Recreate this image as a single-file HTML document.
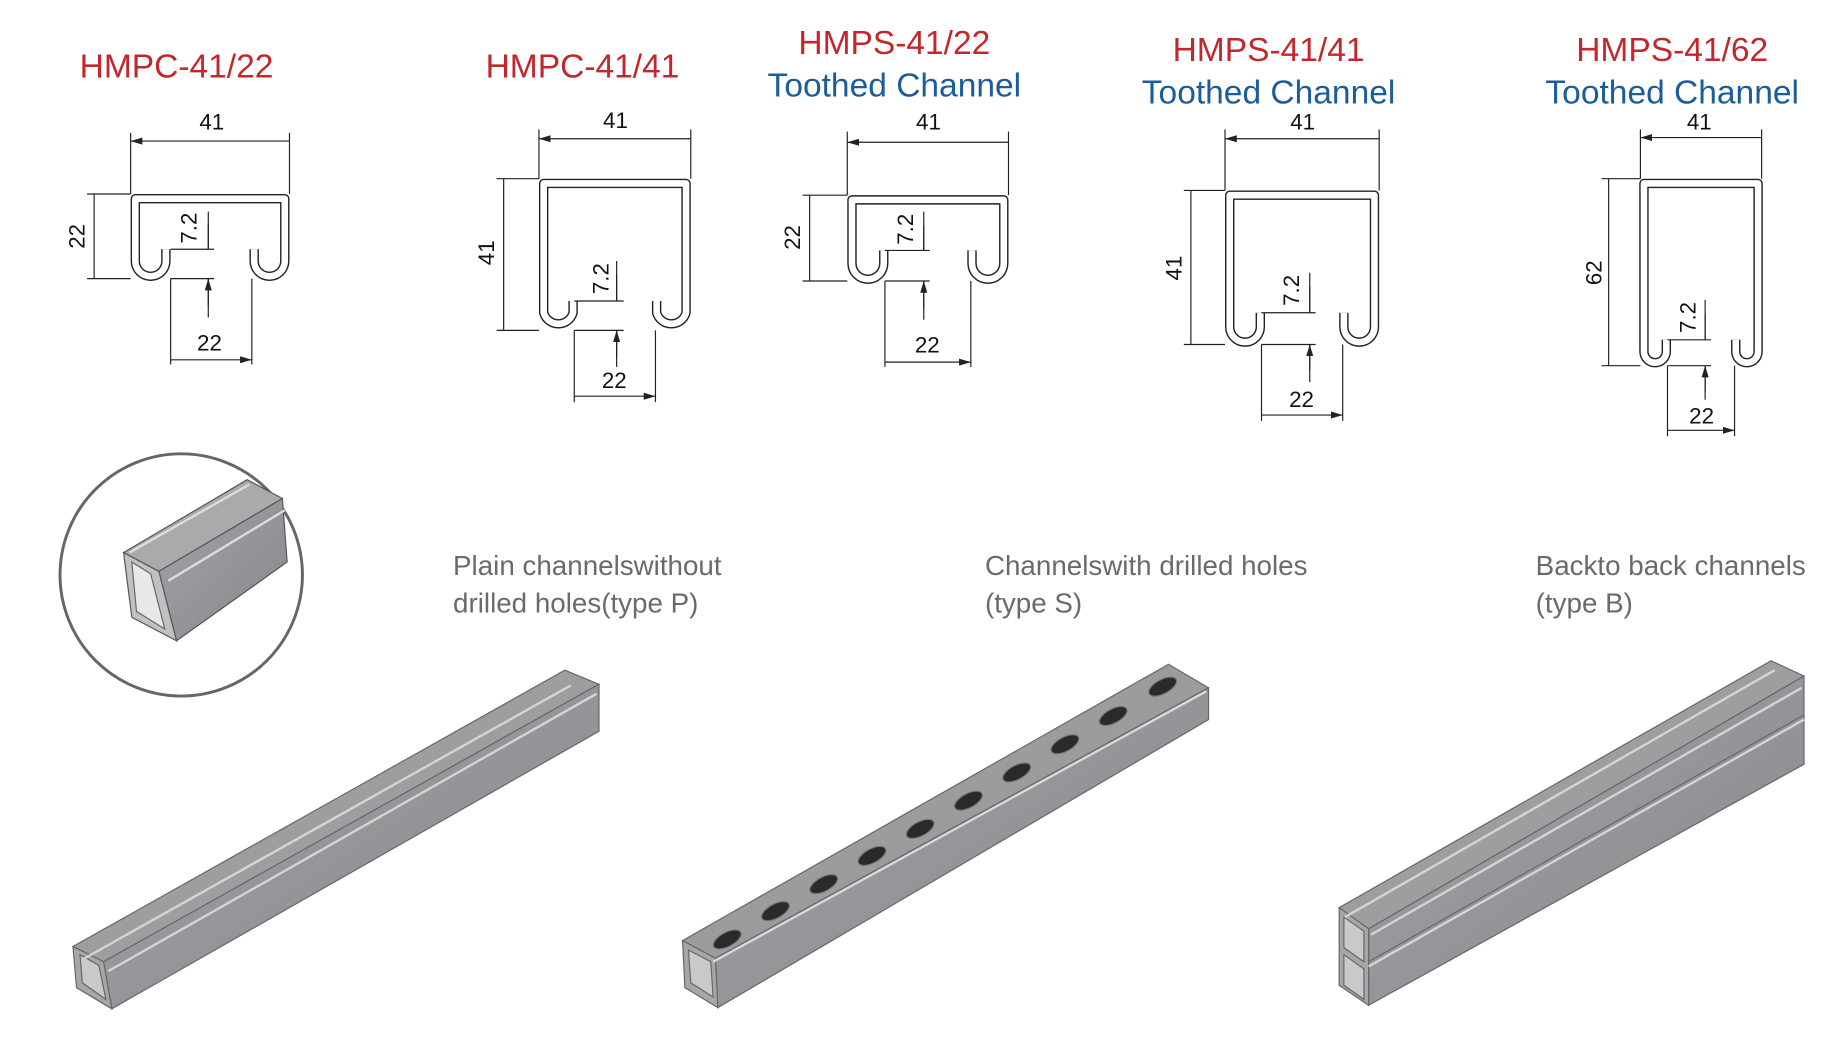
<!DOCTYPE html>
<html><head><meta charset="utf-8"><style>
html,body{margin:0;padding:0;background:#fff;width:1844px;height:1037px;overflow:hidden}
svg{display:block}
.t{font-family:"Liberation Sans",sans-serif;font-size:28.5px}
.r{fill:#c1272d}.b{fill:#1b5c9b}
.d{font-family:"Liberation Sans",sans-serif;font-size:19px;fill:#111}
.g{font-family:"Liberation Sans",sans-serif;font-size:23.6px;fill:#6a6a6a}
.ch{fill:none;stroke:#222;stroke-width:8;stroke-linejoin:round}
.chi{fill:none;stroke:#fff;stroke-width:5.6;stroke-linejoin:round}
.ln{stroke:#222;stroke-width:1;fill:none}
</style></head><body>
<svg width="1844" height="1037" viewBox="0 0 1567 882" preserveAspectRatio="none" xmlns="http://www.w3.org/2000/svg">
<defs>
<marker id="a" viewBox="0 0 10 6" refX="10" refY="3" markerWidth="10" markerHeight="6" orient="auto-start-reverse" markerUnits="userSpaceOnUse"><path d="M0,0 L10,3 L0,6 z" fill="#222"/></marker>
<linearGradient id="m" x1="0" y1="0" x2="1" y2="1"><stop offset="0" stop-color="#a2a4a6"/><stop offset="1" stop-color="#85878a"/></linearGradient>
</defs>

<text class="t r" x="150" y="66" text-anchor="middle">HMPC-41/22</text>
<text class="t r" x="495" y="66" text-anchor="middle">HMPC-41/41</text>
<text class="t r" x="760" y="46" text-anchor="middle">HMPS-41/22</text>
<text class="t b" x="760" y="82" text-anchor="middle">Toothed Channel</text>
<text class="t r" x="1078" y="52" text-anchor="middle">HMPS-41/41</text>
<text class="t b" x="1078" y="88" text-anchor="middle">Toothed Channel</text>
<text class="t r" x="1421" y="52" text-anchor="middle">HMPS-41/62</text>
<text class="t b" x="1421" y="88" text-anchor="middle">Toothed Channel</text>

<g>
<path class="ch" d="M141,212 L141,222 A13,13 0 0 1 115,222 L115,169 L242,169 L242,222 A13,13 0 0 1 216,222 L216,212"/>
<path class="chi" d="M141,212 L141,222 A13,13 0 0 1 115,222 L115,169 L242,169 L242,222 A13,13 0 0 1 216,222 L216,212"/>
<path class="ln" d="M111,165 V113 M246,165 V113 M111,165 H74 M111,237 H74 M145,237 V310 M214,237 V310 M145,212 H182 M145,237 H182 M177,180 V212 M177,237 V270"/>
<path class="ln" marker-start="url(#a)" marker-end="url(#a)" d="M111,120 H246 M80,165 V237 M145,306 H214"/>
<path class="ln" marker-end="url(#a)" d="M177,190 V212 M177,260 V237"/>
<text class="d" x="180" y="110" text-anchor="middle">41</text>
<text class="d" x="178" y="298" text-anchor="middle">22</text>
<text class="d" transform="translate(72,201) rotate(-90)" text-anchor="middle">22</text>
<text class="d" transform="translate(167,194) rotate(-90)" text-anchor="middle">7.2</text>
</g>

<g>
<path class="ch" d="M487,256 L487,266 A13,13 0 0 1 462,266 L462,156 L583,156 L583,266 A13,13 0 0 1 558,266 L558,256"/>
<path class="chi" d="M487,256 L487,266 A13,13 0 0 1 462,266 L462,156 L583,156 L583,266 A13,13 0 0 1 558,266 L558,256"/>
<path class="ln" d="M458,152 V110 M587,152 V110 M458,152 H422 M458,281 H422 M488,281 V342 M557,281 V342 M488,256 H530 M488,281 H530 M524,222 V256 M524,281 V312"/>
<path class="ln" marker-start="url(#a)" marker-end="url(#a)" d="M458,118 H587 M428,152 V281 M488,337 H557"/>
<path class="ln" marker-end="url(#a)" d="M524,234 V256 M524,304 V281"/>
<text class="d" x="523" y="109" text-anchor="middle">41</text>
<text class="d" x="522" y="330" text-anchor="middle">22</text>
<text class="d" transform="translate(420,215) rotate(-90)" text-anchor="middle">41</text>
<text class="d" transform="translate(517,237) rotate(-90)" text-anchor="middle">7.2</text>
</g>

<g>
<path class="ch" d="M751,213 L751,224 A13,13 0 0 1 724,224 L724,170 L853,170 L853,224 A13,13 0 0 1 826,224 L826,213"/>
<path class="chi" d="M751,213 L751,224 A13,13 0 0 1 724,224 L724,170 L853,170 L853,224 A13,13 0 0 1 826,224 L826,213"/>
<path class="ln" d="M720,166 V112 M857,166 V112 M720,166 H682 M720,239 H682 M752,239 V312 M825,239 V312 M752,213 H790 M752,239 H790 M785,180 V213 M785,239 V272"/>
<path class="ln" marker-start="url(#a)" marker-end="url(#a)" d="M720,121 H857 M688,166 V239 M752,308 H825"/>
<path class="ln" marker-end="url(#a)" d="M785,192 V213 M785,262 V239"/>
<text class="d" x="789" y="110" text-anchor="middle">41</text>
<text class="d" x="788" y="300" text-anchor="middle">22</text>
<text class="d" transform="translate(680,202) rotate(-90)" text-anchor="middle">22</text>
<text class="d" transform="translate(776,195) rotate(-90)" text-anchor="middle">7.2</text>
</g>

<g>
<path class="ch" d="M1071,266 L1071,278 A13,13 0 0 1 1045,278 L1045,166 L1168,166 L1168,278 A13,13 0 0 1 1142,278 L1142,266"/>
<path class="chi" d="M1071,266 L1071,278 A13,13 0 0 1 1045,278 L1045,166 L1168,166 L1168,278 A13,13 0 0 1 1142,278 L1142,266"/>
<path class="ln" d="M1041,162 V110 M1172,162 V110 M1041,162 H1006 M1041,293 H1006 M1072,293 V358 M1141,293 V358 M1072,266 H1118 M1072,293 H1118 M1113,232 V266 M1113,293 V325"/>
<path class="ln" marker-start="url(#a)" marker-end="url(#a)" d="M1041,118 H1172 M1012,162 V293 M1072,353 H1141"/>
<path class="ln" marker-end="url(#a)" d="M1113,244 V266 M1113,315 V293"/>
<text class="d" x="1107" y="110" text-anchor="middle">41</text>
<text class="d" x="1106" y="346" text-anchor="middle">22</text>
<text class="d" transform="translate(1004,228) rotate(-90)" text-anchor="middle">41</text>
<text class="d" transform="translate(1104,247) rotate(-90)" text-anchor="middle">7.2</text>
</g>

<g>
<path class="ch" d="M1416,289 L1416,299 A9.5,9.5 0 0 1 1397,299 L1397,156 L1494,156 L1494,299 A9.5,9.5 0 0 1 1475,299 L1475,289"/>
<path class="chi" d="M1416,289 L1416,299 A9.5,9.5 0 0 1 1397,299 L1397,156 L1494,156 L1494,299 A9.5,9.5 0 0 1 1475,299 L1475,289"/>
<path class="ln" d="M1394,152 V110 M1497,152 V110 M1394,152 H1361 M1394,311 H1361 M1417,311 V371 M1474,311 V371 M1417,289 H1454 M1417,311 H1454 M1449,255 V289 M1449,311 V340"/>
<path class="ln" marker-start="url(#a)" marker-end="url(#a)" d="M1394,117 H1497 M1367,152 V311 M1417,366 H1474"/>
<path class="ln" marker-end="url(#a)" d="M1449,267 V289 M1449,333 V311"/>
<text class="d" x="1444" y="110" text-anchor="middle">41</text>
<text class="d" x="1446" y="360" text-anchor="middle">22</text>
<text class="d" transform="translate(1361,232) rotate(-90)" text-anchor="middle">62</text>
<text class="d" transform="translate(1441,270) rotate(-90)" text-anchor="middle">7.2</text>
</g>

<text class="g" x="385" y="489">Plain channelswithout</text>
<text class="g" x="385" y="521">drilled holes(type P)</text>
<text class="g" x="837" y="489">Channelswith drilled holes</text>
<text class="g" x="837" y="521">(type S)</text>
<text class="g" x="1305" y="489">Backto back channels</text>
<text class="g" x="1305" y="521">(type B)</text>

<circle cx="154" cy="489" r="103" fill="#fff" stroke="#666" stroke-width="2.5"/>
<g stroke="#555" stroke-width="1">
<polygon points="105,470 210,408 240,424 135,486" fill="#a8aaac"/>
<polygon points="135,486 240,424 244,478 150,545" fill="url(#m)"/>
<polygon points="105,470 135,486 150,545 112,525" fill="#bfc1c3"/>
<polygon points="112,478 128,488 140,535 116,520" fill="#e8e8e8" stroke="#666"/>
<path d="M110,470 L212,412 M143,494 L242,434" stroke="#ddd" stroke-width="2" fill="none"/>
</g>

<g stroke="#666" stroke-width="1">
<polygon points="62,805 480,570 509,582 88,818" fill="#9c9ea0"/>
<polygon points="88,818 509,582 509,622 95,858" fill="url(#m)"/>
<polygon points="62,805 88,818 95,858 65,840" fill="#a5a7a9"/>
<polygon points="68,812 84,821 90,850 70,836" fill="#c8c9ca"/>
<path d="M72,815 L485,583 M92,826 L507,590" stroke="#d4d5d6" stroke-width="2" fill="none"/>
</g>

<g stroke="#666" stroke-width="1">
<polygon points="580,800 993,565 1027,585 608,815" fill="#9a9c9e"/>
<polygon points="608,815 1027,585 1027,612 610,857" fill="url(#m)"/>
<polygon points="580,800 608,815 610,857 582,840" fill="#a5a7a9"/>
<polygon points="585,808 604,818 606,848 587,836" fill="#c8c9ca"/>
<path d="M606,818 L1025,588" stroke="#d8d9da" stroke-width="2" fill="none"/>
<g fill="#2a2a2a" stroke="#777">
<ellipse cx="618" cy="799" rx="13" ry="6" transform="rotate(-28 618 799)"/>
<ellipse cx="659" cy="775" rx="13" ry="6" transform="rotate(-28 659 775)"/>
<ellipse cx="700" cy="752" rx="13" ry="6" transform="rotate(-28 700 752)"/>
<ellipse cx="741" cy="728" rx="13" ry="6" transform="rotate(-28 741 728)"/>
<ellipse cx="782" cy="705" rx="13" ry="6" transform="rotate(-28 782 705)"/>
<ellipse cx="823" cy="681" rx="13" ry="6" transform="rotate(-28 823 681)"/>
<ellipse cx="864" cy="657" rx="13" ry="6" transform="rotate(-28 864 657)"/>
<ellipse cx="905" cy="633" rx="13" ry="6" transform="rotate(-28 905 633)"/>
<ellipse cx="946" cy="609" rx="13" ry="6" transform="rotate(-28 946 609)"/>
<ellipse cx="988" cy="584" rx="13" ry="6" transform="rotate(-28 988 584)"/>
</g>
</g>

<g stroke="#666" stroke-width="1">
<polygon points="1138,772 1505,562 1533,575 1163,790" fill="#9c9ea0"/>
<polygon points="1163,790 1533,575 1533,650 1163,855" fill="url(#m)"/>
<polygon points="1138,772 1163,790 1163,855 1138,838" fill="#a5a7a9"/>
<polygon points="1142,780 1159,792 1159,818 1142,806" fill="#c8c9ca"/>
<polygon points="1142,812 1159,824 1159,850 1142,838" fill="#c8c9ca"/>
<path d="M1143,780 L1508,570 M1165,795 L1531,585 M1163,822 L1533,612" stroke="#d4d5d6" stroke-width="2" fill="none"/>
<path d="M1163,818 L1533,608" stroke="#666" stroke-width="1" fill="none"/>
</g>
</svg>
</body></html>
